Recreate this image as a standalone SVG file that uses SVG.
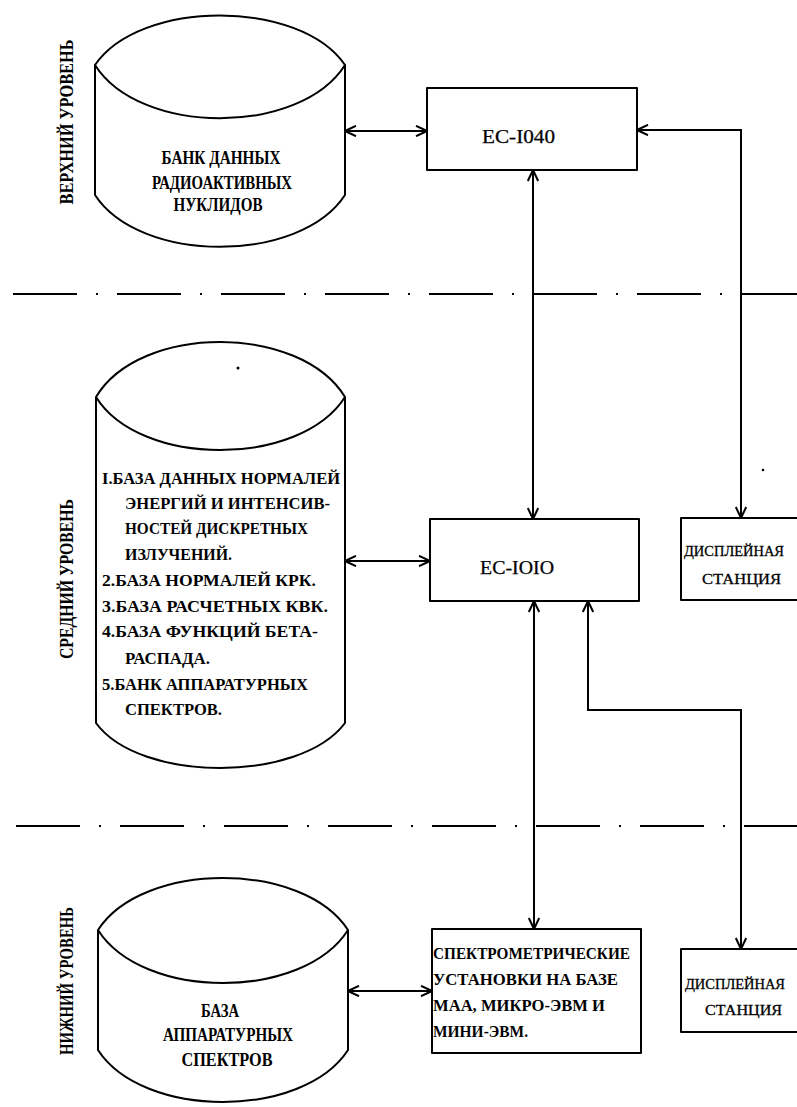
<svg xmlns="http://www.w3.org/2000/svg" width="797" height="1107" viewBox="0 0 797 1107">
<style>
.bg{fill:#ffffff}
.shape{fill:#ffffff;stroke:#000;stroke-width:2;stroke-linejoin:round}
.edge{fill:none;stroke:#000;stroke-width:2}
.conn{fill:none;stroke:#000;stroke-width:2;marker-start:url(#ah);marker-end:url(#ah)}
.dd{fill:none;stroke:#000;stroke-width:2;stroke-dasharray:64 19 2 19}
.t{font-family:"Liberation Serif","DejaVu Serif",serif;font-size:17px;font-weight:bold;fill:#000}
.tc{font-family:"Liberation Serif","DejaVu Serif",serif;font-size:18px;font-weight:bold;fill:#000}
.tr{font-family:"Liberation Serif","DejaVu Serif",serif;font-size:18px;fill:#000;stroke:#000;stroke-width:0.25}
.td{font-family:"Liberation Serif","DejaVu Serif",serif;font-size:15px;fill:#000;stroke:#000;stroke-width:0.3}
.lbl{font-family:"Liberation Serif","DejaVu Serif",serif;font-size:18px;font-weight:bold;fill:#000}
</style>
<defs>
<marker id="ah" viewBox="0 0 13 12" refX="12" refY="6" markerWidth="13" markerHeight="12" markerUnits="userSpaceOnUse" orient="auto-start-reverse">
<path d="M1,0.8 L12,6 L1,11.2" fill="none" stroke="#000" stroke-width="2"/>
</marker>
</defs>
<rect class="bg" x="0" y="0" width="797" height="1107"/>

<g id="level-separators">
<line class="dd" x1="13" y1="294" x2="797" y2="294"/>
<line class="dd" x1="16" y1="826" x2="797" y2="826"/>
</g>

<g id="level-labels">
<text class="lbl" transform="translate(73,122) rotate(-90)" text-anchor="middle" textLength="165" lengthAdjust="spacingAndGlyphs">ВЕРХНИЙ УРОВЕНЬ</text>
<text class="lbl" transform="translate(73,579) rotate(-90)" text-anchor="middle" textLength="160" lengthAdjust="spacingAndGlyphs">СРЕДНИЙ УРОВЕНЬ</text>
<text class="lbl" transform="translate(73,981) rotate(-90)" text-anchor="middle" textLength="148" lengthAdjust="spacingAndGlyphs">НИЖНИЙ УРОВЕНЬ</text>
</g>

<g id="connectors">
<path class="conn" d="M345,131 H427"/>
<path class="conn" d="M637,130 H741 V518"/>
<path class="conn" d="M533,170 V519"/>
<path class="conn" d="M345,561 H430"/>
<path class="conn" d="M534,601 V929"/>
<path class="conn" d="M588,601 V710 H741 V949"/>
<path class="conn" d="M348,991 H432"/>
</g>

<g id="bank-nuclides">
<path class="shape" d="M95,65 C140,-1 300,-1 345,65 V195 C300,264 140,264 95,195 Z"/>
<path class="edge" d="M95,65 C140,136 300,136 345,65"/>
<text class="tc" x="221" y="164" text-anchor="middle" textLength="119" lengthAdjust="spacingAndGlyphs">БАНК ДАННЫХ</text>
<text class="tc" x="222" y="189" text-anchor="middle" textLength="140" lengthAdjust="spacingAndGlyphs">РАДИОАКТИВНЫХ</text>
<text class="tc" x="218" y="211" text-anchor="middle" textLength="89" lengthAdjust="spacingAndGlyphs">НУКЛИДОВ</text>
</g>

<g id="ec1040">
<rect class="shape" x="427" y="88" width="210" height="82"/>
<text class="tr" x="482" y="143" textLength="73" lengthAdjust="spacingAndGlyphs">ЕС-I040</text>
</g>

<g id="middle-db">
<path class="shape" d="M96,397 C140,323.7 300,323.7 345,397 V723 C300,783 140,783 96,723 Z"/>
<path class="edge" d="M96,397 C140,467.7 300,467.7 345,397"/>
<circle cx="238" cy="368" r="1.5" fill="#000"/>
<text class="t" x="102" y="484" textLength="238" lengthAdjust="spacingAndGlyphs">I.БАЗА ДАННЫХ НОРМАЛЕЙ</text>
<text class="t" x="125" y="509" textLength="205" lengthAdjust="spacingAndGlyphs">ЭНЕРГИЙ И ИНТЕНСИВ-</text>
<text class="t" x="125" y="534" textLength="183" lengthAdjust="spacingAndGlyphs">НОСТЕЙ ДИСКРЕТНЫХ</text>
<text class="t" x="125" y="560" textLength="107" lengthAdjust="spacingAndGlyphs">ИЗЛУЧЕНИЙ.</text>
<text class="t" x="102" y="586" textLength="214" lengthAdjust="spacingAndGlyphs">2.БАЗА НОРМАЛЕЙ КРК.</text>
<text class="t" x="102" y="612" textLength="226" lengthAdjust="spacingAndGlyphs">3.БАЗА РАСЧЕТНЫХ КВК.</text>
<text class="t" x="102" y="637" textLength="216" lengthAdjust="spacingAndGlyphs">4.БАЗА ФУНКЦИЙ БЕТА-</text>
<text class="t" x="125" y="664" textLength="85" lengthAdjust="spacingAndGlyphs">РАСПАДА.</text>
<text class="t" x="102" y="690" textLength="206" lengthAdjust="spacingAndGlyphs">5.БАНК АППАРАТУРНЫХ</text>
<text class="t" x="125" y="715" textLength="97" lengthAdjust="spacingAndGlyphs">СПЕКТРОВ.</text>
</g>

<g id="ec1010">
<rect class="shape" x="430" y="519" width="209" height="82"/>
<text class="tr" x="480" y="574" textLength="74" lengthAdjust="spacingAndGlyphs">ЕС-IOIO</text>
</g>

<g id="display-1">
<rect class="shape" x="681" y="518" width="130" height="82"/>
<text class="td" x="684" y="556" textLength="100" lengthAdjust="spacingAndGlyphs">ДИСПЛЕЙНАЯ</text>
<text class="td" x="702" y="584" textLength="79" lengthAdjust="spacingAndGlyphs">СТАНЦИЯ</text>
</g>
<circle cx="763" cy="470" r="1.3" fill="#000"/>

<g id="bottom-db">
<path class="shape" d="M98,930 C143,860.7 303,860.7 348,930 V1050 C303,1119.3 143,1119.3 98,1050 Z"/>
<path class="edge" d="M98,930 C143,1000.7 303,1000.7 348,930"/>
<text class="tc" x="220" y="1017" text-anchor="middle" textLength="38" lengthAdjust="spacingAndGlyphs">БАЗА</text>
<text class="tc" x="228" y="1041" text-anchor="middle" textLength="130" lengthAdjust="spacingAndGlyphs">АППАРАТУРНЫХ</text>
<text class="tc" x="227" y="1066" text-anchor="middle" textLength="91" lengthAdjust="spacingAndGlyphs">СПЕКТРОВ</text>
</g>

<g id="spectrometers">
<rect class="shape" x="432" y="929" width="209" height="124"/>
<text class="t" x="433" y="959" textLength="197" lengthAdjust="spacingAndGlyphs" style="font-size:16px">СПЕКТРОМЕТРИЧЕСКИЕ</text>
<text class="t" x="433" y="985" textLength="185" lengthAdjust="spacingAndGlyphs">УСТАНОВКИ НА БАЗЕ</text>
<text class="t" x="433" y="1011" textLength="172" lengthAdjust="spacingAndGlyphs">МАА, МИКРО-ЭВМ И</text>
<text class="t" x="433" y="1037" textLength="95" lengthAdjust="spacingAndGlyphs">МИНИ-ЭВМ.</text>
</g>

<g id="display-2">
<rect class="shape" x="681" y="949" width="130" height="83"/>
<text class="td" x="685" y="989" textLength="100" lengthAdjust="spacingAndGlyphs">ДИСПЛЕЙНАЯ</text>
<text class="td" x="705" y="1015" textLength="77" lengthAdjust="spacingAndGlyphs">СТАНЦИЯ</text>
</g>
</svg>
